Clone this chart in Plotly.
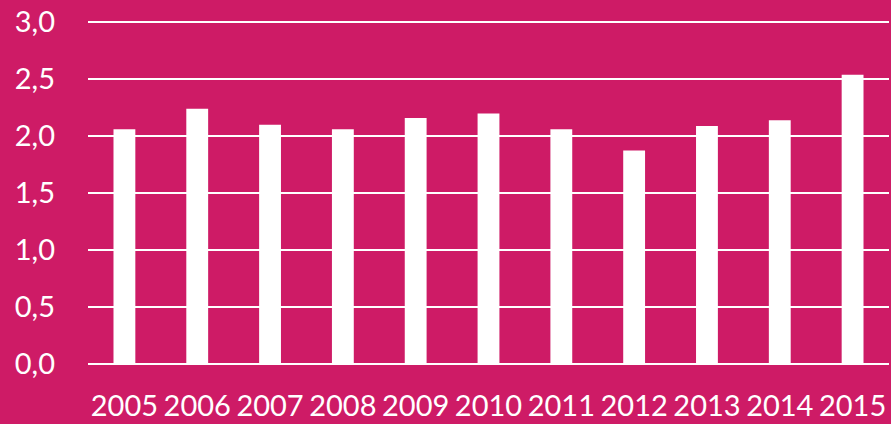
import plotly.graph_objects as go

years = ["2005", "2006", "2007", "2008", "2009", "2010", "2011", "2012", "2013", "2014", "2015"]
values = [2.06, 2.24, 2.10, 2.06, 2.16, 2.20, 2.06, 1.875, 2.09, 2.14, 2.54]
y_ticks = [0.0, 0.5, 1.0, 1.5, 2.0, 2.5, 3.0]
y_labels = ["0,0", "0,5", "1,0", "1,5", "2,0", "2,5", "3,0"]

bg = "#CE1B66"

fig = go.Figure(go.Bar(
    x=years, y=values, width=0.30,
    marker=dict(color="white", line=dict(width=0)),
))

fig.update_layout(
    width=891, height=424,
    paper_bgcolor=bg, plot_bgcolor=bg,
    margin=dict(l=88, r=2, t=20, b=60),
    font=dict(family="Lato", color="white", size=29),
    showlegend=False,
    bargap=0.7,
)
fig.update_xaxes(
    type="category", showgrid=False, showline=False, ticks="",
    tickfont=dict(size=29, family="Lato", color="white"),
    ticklabelstandoff=22,
)
fig.update_yaxes(
    range=[0, 3.02], tickvals=y_ticks, ticktext=y_labels,
    showgrid=True, gridcolor="white", gridwidth=2,
    zeroline=True, zerolinecolor="white", zerolinewidth=2,
    showline=False, ticks="",
    tickfont=dict(size=29, family="Lato", color="white"),
    ticklabelstandoff=32,
)

fig.write_html(
    "out.html",
    config={"displayModeBar": False},
    post_script="document.body.style.margin='0';document.body.style.padding='0';document.body.style.overflow='hidden';",
)
